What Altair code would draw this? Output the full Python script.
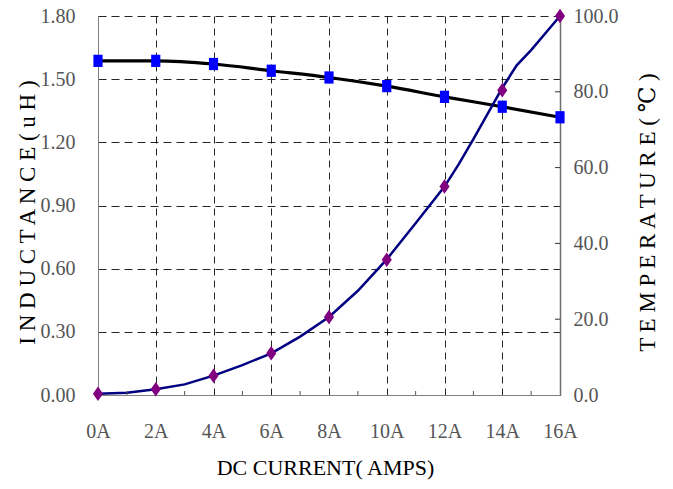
import altair as alt
import pandas as pd

# ---- data ----
amps = [0, 2, 4, 6, 8, 10, 12, 14, 16]
inductance = [1.587, 1.587, 1.572, 1.540, 1.508, 1.467, 1.416, 1.369, 1.319]
temp_marker = [0.3, 1.5, 5.1, 11.0, 20.6, 35.7, 55.0, 80.4, 100.0]
temp_line_amps = [0, 1, 2, 3, 4, 5, 6, 7, 8, 9, 10, 11, 12, 12.5, 13, 14, 14.5, 15, 16]
temp_line_vals = [0.3, 0.6, 1.5, 2.8, 5.1, 7.9, 11.0, 15.4, 20.6, 27.5, 35.8, 45.3,
                  55.0, 61.0, 67.5, 81.0, 87.0, 91.0, 100.0]
minor_amps = [1, 3, 5, 7, 9, 11, 13, 15]
left_ticks = [0.0, 0.3, 0.6, 0.9, 1.2, 1.5, 1.8]
right_ticks = [0, 20, 40, 60, 80, 100]
right_inner_ticks = [20, 40, 60, 80]

ind_df = pd.DataFrame({"amp": amps, "val": inductance})
tm_df = pd.DataFrame({"amp": amps, "val": temp_marker})
tl_df = pd.DataFrame({"amp": temp_line_amps, "val": temp_line_vals})
minor_df = pd.DataFrame({"amp": minor_amps})
rt_df = pd.DataFrame({"val": right_inner_ticks})

W, H = 462, 379
FONT = "Tinos, 'Liberation Serif', 'Times New Roman', 'DejaVu Serif', serif"

x_enc = alt.X(
    "amp:Q",
    scale=alt.Scale(domain=[0, 16], nice=False, zero=False),
    axis=alt.Axis(
        values=amps, labelExpr="datum.value + 'A'", grid=True, gridDash=[7, 5],
        gridColor="#000000", gridOpacity=0.85, gridWidth=1, ticks=False,
        domainColor="#808080", labelPadding=26, labelFontSize=20, labelFont=FONT,
        labelColor="#555555", labelFlush=False,
        title="DC CURRENT( AMPS)", titleFont=FONT, titleFontSize=22,
        titleFontWeight="normal", titleColor="#000000",
        titleX=227, titleY=72, titleBaseline="middle", titleAlign="center",
    ),
)

ind_scale = alt.Scale(domain=[0, 1.8], nice=False, zero=False)
tmp_scale = alt.Scale(domain=[0, 100], nice=False, zero=False)

ind_line = alt.Chart(ind_df).mark_line(
    color="#000000", strokeWidth=3.2, interpolate="monotone"
).encode(
    x=x_enc,
    y=alt.Y(
        "val:Q", scale=ind_scale,
        axis=alt.Axis(
            orient="left", values=left_ticks, format=".2f", grid=True,
            gridDash=[8, 5], gridColor="#000000", gridOpacity=0.85, gridWidth=1,
            ticks=False, domainColor="#808080", labelPadding=23,
            labelFontSize=20, labelFont=FONT, labelColor="#555555",
            title="I N D U C T A N C E ( u H )", titleFont=FONT, titleFontSize=23,
            titleFontWeight="normal", titleColor="#000000", titleAngle=270,
            titleX=-71, titleY=196, titleBaseline="middle", titleAlign="center",
        ),
    ),
)

tmp_line = alt.Chart(tl_df).mark_line(color="#000080", strokeWidth=2.5).encode(
    x=x_enc,
    y=alt.Y(
        "val:Q", scale=tmp_scale,
        axis=alt.Axis(
            orient="right", values=right_ticks, format=".1f", grid=False,
            ticks=False, domainColor="#6e6e6e", domainWidth=1.5, labelPadding=13,
            labelFontSize=20, labelFont=FONT, labelColor="#555555",
            title="T E M P E R A T U R E ( ℃ )", titleFont=FONT, titleFontSize=23,
            titleFontWeight="normal", titleColor="#000000", titleAngle=270,
            titleX=87, titleY=196, titleBaseline="middle", titleAlign="center",
        ),
    ),
)

ind_pts = alt.Chart(ind_df).mark_point(
    shape="M-0.75,-1L0.75,-1L0.75,1L-0.75,1Z", size=150, filled=True,
    color="#0000FF", opacity=1,
).encode(x=x_enc, y=alt.Y("val:Q", scale=ind_scale, axis=None))

tmp_pts = alt.Chart(tm_df).mark_point(
    shape="M0,-1L0.7,0L0,1L-0.7,0Z", size=210, filled=True,
    color="#800080", opacity=1,
).encode(x=x_enc, y=alt.Y("val:Q", scale=tmp_scale, axis=None))

minor = alt.Chart(minor_df).mark_rule(color="#555555", strokeWidth=1).encode(
    x=x_enc, y=alt.value(H), y2=alt.value(H - 4)
)

rticks = alt.Chart(rt_df).mark_rule(color="#333333", strokeWidth=1).encode(
    y=alt.Y("val:Q", scale=tmp_scale, axis=None),
    x=alt.value(W - 5), x2=alt.value(W),
)

chart = alt.layer(
    ind_line, tmp_line, minor, rticks, ind_pts, tmp_pts
).resolve_scale(y="independent").properties(
    width=W, height=H,
    autosize=alt.AutoSizeParams(type="none"),
    padding={"left": 98, "top": 16, "right": 113, "bottom": 94},
    background="#ffffff",
).configure_view(stroke=None)

chart.save("out.html", embed_options={"renderer": "svg", "actions": False})
